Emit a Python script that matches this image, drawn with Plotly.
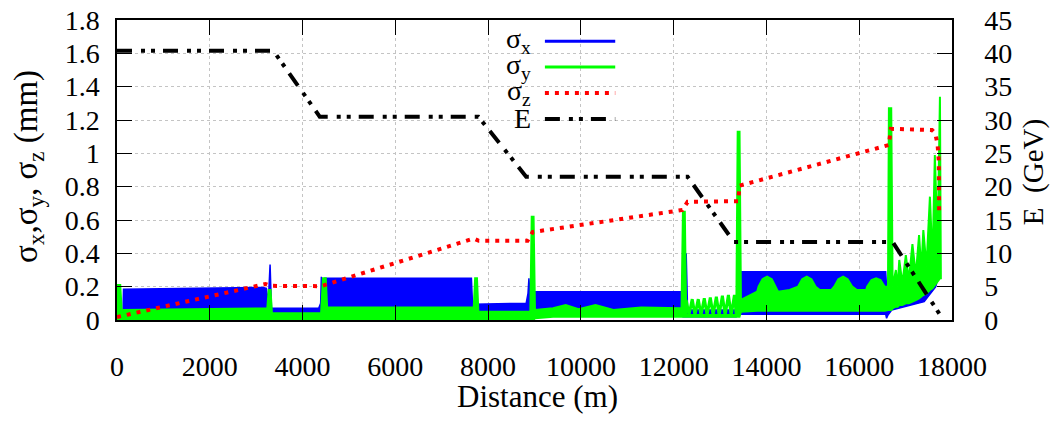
import plotly.graph_objects as go

# ---------------- data ----------------
# sigma_x envelope (mm): distance, upper, lower
sx_dist  = [0, 60, 130, 140, 3150, 3220, 3260, 3300, 3330, 4350, 4390, 4405, 4430, 4480, 7640, 7660, 7700, 8820, 8860, 8880, 8920, 8980,
            12160, 12200, 12270, 12300, 13350, 13400, 13420, 16570, 16590, 16620, 16700, 17000, 17400, 17650, 17740]
sx_upper = [0.01, 0.05, 0.06, 0.185, 0.195, 0.19, 0.10, 0.333, 0.07, 0.072, 0.10, 0.26, 0.08, 0.25, 0.25, 0.12, 0.095, 0.10, 0.16, 0.25, 0.07, 0.17,
            0.17, 0.12, 0.40, 0.06, 0.06, 0.20, 0.29, 0.29, 0.20, 0.20, 0.15, 0.20, 0.25, 0.33, 0.47]
sx_lower = [0.0, 0.0, 0.0, 0.06, 0.06, 0.06, 0.04, 0.04, 0.04, 0.045, 0.04, 0.04, 0.04, 0.06, 0.06, 0.05, 0.055, 0.055, 0.04, 0.04, 0.0, 0.05,
            0.05, 0.02, 0.02, 0.02, 0.02, 0.03, 0.035, 0.035, 0.01, 0.03, 0.06, 0.08, 0.11, 0.20, 0.30]

# sigma_y envelope (mm): distance, upper, lower
sy_dist  = [0, 20, 70, 100, 3240, 3270, 3310, 3340, 4400, 4440, 4500, 4530, 7690, 7720, 7760, 7790, 8910, 8940, 8980, 9010,
            9400, 9673, 9950, 10314, 10700, 11300, 12170, 12200, 12240, 12270, 13350, 13380, 13420, 13450, 13800,
            13830, 13915, 14015, 14115, 14200, 14250, 14500,
            14680, 14770, 14869, 14970, 15060, 15150, 15400,
            15460, 15550, 15653, 15750, 15850, 15950, 16150,
            16170, 16265, 16364, 16460, 16550, 16620, 16640, 16690, 16720,
            16790, 16830, 16863, 16930, 17005, 17070, 17147, 17220, 17290, 17340, 17382, 17450, 17524, 17580, 17630, 17690, 17740, 17760]
sy_upper = [0.0, 0.21, 0.21, 0.06, 0.07, 0.18, 0.18, 0.04, 0.04, 0.25, 0.25, 0.075, 0.075, 0.25, 0.25, 0.05, 0.05, 0.62, 0.62, 0.06,
            0.07, 0.09, 0.065, 0.09, 0.06, 0.075, 0.07, 0.65, 0.65, 0.03, 0.03, 1.13, 1.13, 0.12, 0.17,
            0.20, 0.245, 0.26, 0.245, 0.20, 0.17, 0.18,
            0.20, 0.245, 0.26, 0.245, 0.20, 0.18, 0.18,
            0.20, 0.245, 0.26, 0.245, 0.20, 0.18, 0.18,
            0.20, 0.24, 0.25, 0.24, 0.20, 0.20, 1.27, 1.27, 0.20,
            0.30, 0.20, 0.36, 0.22, 0.39, 0.24, 0.456, 0.27, 0.51, 0.30, 0.54, 0.32, 0.74, 0.35, 0.99, 0.45, 1.34, 0.40]
sy_lower = [0.0, 0.0, 0.0, 0.0, 0.0, 0.0, 0.0, 0.0, 0.0, 0.0, 0.0, 0.0, 0.0, 0.0, 0.0, 0.0, 0.0, 0.0, 0.0, 0.01,
            0.02, 0.02, 0.02, 0.02, 0.02, 0.02, 0.02, 0.02, 0.02, 0.02, 0.02, 0.02, 0.02, 0.05, 0.055,
            0.055, 0.055, 0.055, 0.055, 0.055, 0.055, 0.055,
            0.055, 0.055, 0.055, 0.055, 0.055, 0.055, 0.055,
            0.055, 0.055, 0.055, 0.055, 0.055, 0.055, 0.055,
            0.055, 0.055, 0.055, 0.055, 0.055, 0.06, 0.06, 0.06, 0.07,
            0.08, 0.08, 0.09, 0.09, 0.10, 0.10, 0.11, 0.12, 0.13, 0.14, 0.15, 0.16, 0.18, 0.19, 0.21, 0.23, 0.25, 0.25]

# sigma_y oscillation between the 12 km and 13.4 km spikes (mm)
sy_osc_dist = [12270, 12330, 12400, 12460, 12530, 12590, 12660, 12720, 12790, 12850, 12920, 12980, 13050, 13110, 13180, 13240, 13310, 13350]
sy_osc_vals = [0.12, 0.03, 0.125, 0.03, 0.125, 0.03, 0.13, 0.03, 0.135, 0.03, 0.14, 0.03, 0.145, 0.03, 0.15, 0.03, 0.15, 0.03]

# sigma_z (mm)
sz_dist = [0, 3200, 3300, 4400, 7690, 7800, 8850, 8960, 12190, 12300, 13390, 13420, 16640, 16680, 17570, 17640, 17690, 17716, 17722]
sz_vals = [0.018, 0.216, 0.205, 0.203, 0.489, 0.475, 0.475, 0.528, 0.66, 0.709, 0.713, 0.806, 1.05, 1.147, 1.14, 1.12, 1.05, 0.95, 0.63]

# beam energy E (GeV)
e_dist = [0, 3370, 4370, 7790, 8820, 12300, 13300, 16720, 17750]
e_gev  = [40.4, 40.4, 30.5, 30.5, 21.5, 21.5, 11.7, 11.7, 0.7]

# axis ticks
x_ticks = [0, 2000, 4000, 6000, 8000, 10000, 12000, 14000, 16000, 18000]
y_ticks = [0, 0.2, 0.4, 0.6, 0.8, 1.0, 1.2, 1.4, 1.6, 1.8]
y_ticktext = ["0", "0.2", "0.4", "0.6", "0.8", "1", "1.2", "1.4", "1.6", "1.8"]
y2_ticks = [0, 5, 10, 15, 20, 25, 30, 35, 40, 45]

legend_labels = ["σ<sub>x</sub>", "σ<sub>y</sub>", "σ<sub>z</sub>", "E"]
x_title = "Distance (m)"
y_title = "σ<sub>x</sub>,σ<sub>y</sub>, σ<sub>z</sub> (mm)"
y2_title = "E  (GeV)"

# ---------------- styles ----------------
BLUE = "#0000ff"
GREEN = "#00ff00"
RED = "#ff0000"
BLACK = "#000000"
FONT = '"Liberation Serif", "Times New Roman", Times, serif'
FS = 28
TFS = 31
E_DASH = "15px,9px,4px,6px,4px,8px"
Z_DASH = "4px,6px"

fig = go.Figure()

fig.add_trace(go.Scatter(
    x=sx_dist + sx_dist[::-1], y=sx_upper + sx_lower[::-1],
    mode="lines", fill="toself", fillcolor=BLUE,
    line=dict(color=BLUE, width=1.5), showlegend=False, hoverinfo="skip"))

fig.add_trace(go.Scatter(
    x=sy_dist + sy_dist[::-1], y=sy_upper + sy_lower[::-1],
    mode="lines", fill="toself", fillcolor=GREEN,
    line=dict(color=GREEN, width=2), showlegend=False, hoverinfo="skip"))

fig.add_trace(go.Scatter(
    x=sy_osc_dist, y=sy_osc_vals, mode="lines",
    line=dict(color=GREEN, width=3), showlegend=False, hoverinfo="skip"))

fig.add_trace(go.Scatter(
    x=sz_dist, y=sz_vals, mode="lines",
    line=dict(color=RED, width=4, dash=Z_DASH), showlegend=False))

fig.add_trace(go.Scatter(
    x=e_dist, y=e_gev, mode="lines", yaxis="y2",
    line=dict(color=BLACK, width=4, dash=E_DASH), showlegend=False))

# ---------------- layout helpers ----------------
# plot area in page pixels (page body has an 8px margin)
OFF = 8
L, R, T, B = 117, 960, 20, 328
W, H = R - L, B - T
def px(xp):
    return (xp - L) / W
def py(yp):
    return (B - yp) / H

# gnuplot-like key (text left of sample)
rows_y = [41.7, 68.3, 95.0, 121.7]
styles = [(BLUE, 3, "solid"), (GREEN, 3, "solid"), (RED, 4, Z_DASH), (BLACK, 4, E_DASH)]
for lab, yy, (col, wid, dsh) in zip(legend_labels, rows_y, styles):
    fig.add_annotation(x=px(537), y=py(yy - 1), xref="paper", yref="paper",
                       text=lab, showarrow=False, xanchor="right", yanchor="middle",
                       font=dict(family=FONT, size=28, color="black"))
    fig.add_shape(type="line", xref="paper", yref="paper",
                  x0=px(549), x1=px(620), y0=py(yy), y1=py(yy),
                  line=dict(color=col, width=wid, dash=dsh))

# axis titles
fig.add_annotation(x=px(542), y=py(407), xref="paper", yref="paper", text=x_title,
                   showarrow=False, xanchor="center", yanchor="middle",
                   font=dict(family=FONT, size=TFS, color="black"))
fig.add_annotation(x=px(27), y=py(170), xref="paper", yref="paper", text=y_title,
                   showarrow=False, xanchor="center", yanchor="middle", textangle=-90,
                   font=dict(family=FONT, size=33, color="black"))
fig.add_annotation(x=px(1043), y=py(176), xref="paper", yref="paper", text=y2_title,
                   showarrow=False, xanchor="center", yanchor="middle", textangle=-90,
                   font=dict(family=FONT, size=29, color="black"))

axis_common = dict(
    showline=True, linecolor="black", linewidth=1.5,
    ticks="inside", ticklen=15, tickwidth=1.2, tickcolor="black",
    tickfont=dict(family=FONT, size=FS, color="black"),
    zeroline=False, automargin=False, ticklabeloverflow="allow",
)

fig.update_layout(
    template="none",
    width=1062 - 2 * OFF, height=426 - 2 * OFF,
    margin=dict(l=L - OFF, r=1062 - R, t=T - OFF, b=426 - B, pad=0),
    paper_bgcolor="white", plot_bgcolor="white",
    font=dict(family=FONT, size=FS, color="black"),
    showlegend=False,
    xaxis=dict(
        range=[0, 18000], tickvals=x_ticks, ticktext=[str(v) for v in x_ticks],
        mirror="ticks", showgrid=True, gridcolor="#c4c4c4", griddash="dot", gridwidth=1,
        ticklabelstandoff=21,
        **axis_common),
    yaxis=dict(
        range=[0, 1.8], tickvals=y_ticks, ticktext=y_ticktext,
        showgrid=True, gridcolor="#c4c4c4", griddash="dot", gridwidth=1,
        ticklabelstandoff=10,
        **axis_common),
    yaxis2=dict(
        range=[0, 45], tickvals=y2_ticks, overlaying="y", side="right",
        showgrid=False, ticklabelstandoff=25,
        **axis_common),
)

fig.write_html("out.html")
